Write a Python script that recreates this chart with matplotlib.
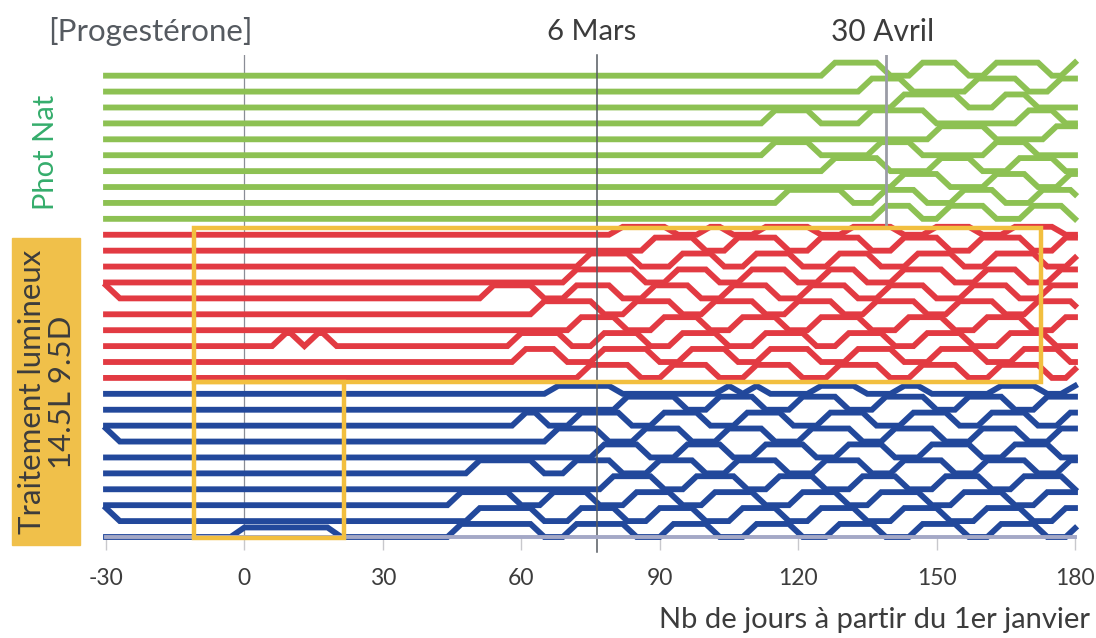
import numpy as np
import matplotlib.pyplot as plt
from matplotlib.patches import Rectangle

plt.rcParams['font.family'] = ['Lato', 'DejaVu Sans']
plt.rcParams['axes.unicode_minus'] = False

# x axis: days from 1 January
x_ticks = [-30, 0, 30, 60, 90, 120, 150, 180]
day_6_mars = 76.5
day_30_avril = 139

# raised (high progesterone) phases per animal, (start day, end day[, height])
# rows listed from top to bottom
green_humps = [
    [(125, 140), (144, 157), (160, 175), (177, 185)],
    [(133, 145), (156, 170), (174, 185)],
    [(140, 157), (162, 172)],
    [(112, 125), (133, 150), (167, 178)],
    [(148, 163), (173, 185)],
    [(112, 125), (135, 147), (160, 172)],
    [(125, 140), (148, 160), (165, 178)],
    [(140, 153), (160, 172), (176, 185)],
    [(115, 132), (136, 148), (153, 165), (170, 182)],
    [(136, 147), (150, 163), (168, 180)],
]
red_humps = [
    [(79, 94, 0.5), (98, 106, 0.5), (110, 125, 0.5), (129, 143, 0.5), (147, 160, 0.5), (164, 178, 0.5)],
    [(86, 100), (104, 118), (122, 136), (140, 153), (157, 171), (175, 185)],
    [(72, 86), (92, 104), (108, 121), (126, 138), (143, 156), (160, 174), (178, 185)],
    [(69, 87), (91, 103), (107, 120), (124, 135), (140, 154), (158, 170), (174, 185)],
    [(-35, -27), (51, 65), (69, 82), (86, 99), (103, 116), (120, 133), (137, 150), (155, 168), (172, 185)],
    [(62, 78), (82, 95), (99, 113), (117, 130), (134, 148), (152, 165), (169, 182)],
    [(70, 83), (88, 101), (105, 118), (122, 136), (141, 154), (158, 171), (175, 185)],
    [(6, 13), (13, 20), (57, 71), (75, 88), (92, 105), (110, 124), (128, 141), (145, 158), (163, 176)],
    [(58, 70), (75, 90), (94, 107), (111, 125), (130, 143), (148, 161), (166, 179)],
    [(72, 86), (90, 103), (108, 121), (126, 140), (144, 157), (161, 175), (178, 185)],
]
blue_humps = [
    [(65, 82, 0.5), (102, 108, 0.5), (108, 114, 0.5), (122, 135, 0.5), (140, 149, 0.5), (161, 174, 0.5), (177, 185, 0.5)],
    [(80, 96), (100, 113), (118, 131), (136, 150), (154, 167), (171, 185)],
    [(58, 66), (70, 84), (88, 101), (106, 119), (124, 137), (142, 155), (159, 172), (176, 185)],
    [(-35, -27), (65, 79), (84, 97), (102, 115), (120, 134), (138, 152), (157, 170), (174, 185)],
    [(75, 88), (93, 106), (110, 124), (128, 141), (146, 160), (164, 177)],
    [(48, 65), (69, 82), (87, 100), (104, 118), (123, 136), (140, 154), (158, 172), (176, 185)],
    [(77, 91), (95, 109), (113, 126), (131, 144), (149, 162), (166, 180)],
    [(44, 60), (64, 77), (82, 95), (99, 113), (118, 131), (135, 149), (153, 167), (171, 185)],
    [(-35, -27), (48, 65), (70, 83), (87, 100), (105, 118), (122, 135), (140, 153), (158, 171), (175, 185)],
    [(-3, 21, 0.6), (44, 65), (69, 85), (90, 103), (108, 121), (126, 139), (144, 157), (161, 174), (178, 185)],
]

GREEN = '#8dc153'
RED = '#e23a42'
BLUE = '#22489b'
GOLD = '#f2bf3f'
TEXT = '#3c3c3c'
RISE = 0.82
RAMP = 3.0


def profile(humps, base):
    xs, ys = [-40.0], [0.0]
    for h in humps:
        s, e = h[0], h[1]
        lev = h[2] if len(h) > 2 else RISE
        xs += [s, s + RAMP, e - RAMP, e]
        ys += [0, lev, lev, 0]
    xs.append(200.0)
    ys.append(0.0)
    grid = np.array([-30.0] + [x for x in xs if -30 < x < 180] + [180.0])
    return grid, base + np.interp(grid, xs, ys)


fig = plt.figure(figsize=(10.96, 6.38), dpi=100)
ax = fig.add_axes([106 / 1096, 1 - 537 / 638, (1075 - 106) / 1096, 482 / 638])
ax.set_xlim(-30, 180)
ax.set_ylim(0, 30.3)

groups = [(green_humps, GREEN), (red_humps, RED), (blue_humps, BLUE)]
row = 0
for humps_list, col in groups:
    for humps in humps_list:
        x, y = profile(humps, 29 - row)
        ax.plot(x, y, color=col, lw=4.2, solid_joinstyle='miter', clip_on=False, zorder=2)
        row += 1

# reference lines
ax.axvline(0, color='#8a8d96', lw=0.9, zorder=1)
ax.axvline(day_6_mars, ymin=-0.032, ymax=1, color='#555a60', lw=1.1, clip_on=False, zorder=3)
ax.axvline(day_30_avril, ymin=0.647, ymax=1, color='#9a9ca6', lw=2, zorder=3)

# treatment boxes
ax.add_patch(Rectangle((-11, 9.75), 183.6, 9.7, fill=False, ec=GOLD, lw=3.2, zorder=4, clip_on=False))
ax.add_patch(Rectangle((-11, -0.05), 32.5, 9.8, fill=False, ec=GOLD, lw=3.2, zorder=4, clip_on=False))

for s in ['top', 'right', 'left']:
    ax.spines[s].set_visible(False)
ax.spines['bottom'].set_color('#a4a8c6')
ax.spines['bottom'].set_linewidth(2.8)
ax.spines['bottom'].set_zorder(3)
ax.set_yticks([])
ax.set_xticks(x_ticks)
ax.tick_params(axis='x', length=9, width=1, color='#c8c8cc', pad=13)
for lab in ax.get_xticklabels():
    lab.set_family(['Liberation Sans Narrow', 'Lato'])
    lab.set_fontsize(16.5)
    lab.set_color(TEXT)

ax.text(-20.4, 1.048, '[Progestérone]', transform=ax.get_xaxis_transform(),
        ha='center', va='center', fontsize=22.5, color='#555a60')
ax.text(75.3, 1.048, '6 Mars', transform=ax.get_xaxis_transform(),
        ha='center', va='center', fontsize=21, color=TEXT)
ax.text(138.3, 1.048, '30 Avril', transform=ax.get_xaxis_transform(),
        ha='center', va='center', fontsize=21.5, color=TEXT)
fig.text(1090 / 1096, 1 - 620 / 638, 'Nb de jours à partir du 1er janvier',
         ha='right', va='center', fontsize=21, color=TEXT)

fig.text(46 / 1096, 1 - 152 / 638, 'Phot Nat', rotation=90, ha='center', va='center',
         fontsize=21, color='#35ad6c')
fig.patches.append(Rectangle((12 / 1096, 1 - 545 / 638), 68 / 1096, 307 / 638,
                             transform=fig.transFigure, color='#f0c04a', zorder=0))
fig.text(47 / 1096, 1 - 392 / 638, 'Traitement lumineux\n14.5L 9.5D', rotation=90,
         ha='center', va='center', fontsize=22.5, color=TEXT, linespacing=1.1,
         multialignment='center')

fig.savefig('out.png', dpi=100)
